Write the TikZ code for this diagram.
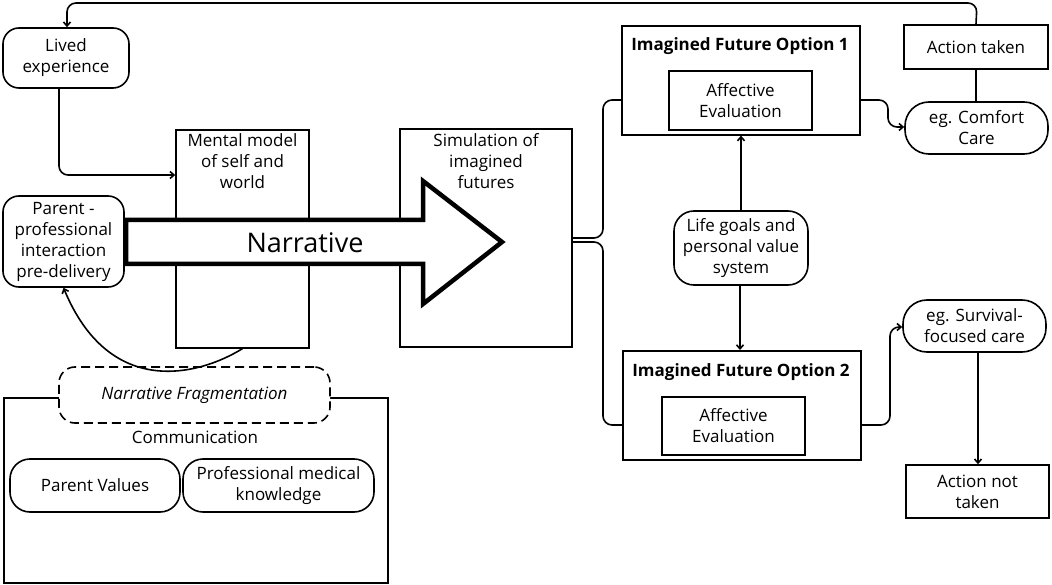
\documentclass[tikz,border=0pt]{standalone}
\usepackage{fontspec}
\setmainfont{Open Sans}
\usetikzlibrary{arrows.meta}
\begin{document}
\begin{tikzpicture}[x=1pt,y=-1pt,line width=1.6pt,
  >={Straight Barb[length=4pt,width=7pt]},
  box/.style={draw,inner sep=0pt,align=center,font=\fontsize{17}{21}\selectfont},
  rbox/.style={box,rounded corners=16pt},
  conn/.style={rounded corners=9pt}]
\useasboundingbox (0,0) rectangle (1052,585);
% left
\node[rbox,minimum width=126,minimum height=60] (lived) at (66,58) {Lived\\experience};
\node[box,minimum width=133,minimum height=218,anchor=north] (mental) at (242.5,129) {};
\node[box,draw=none,anchor=north] (mentalt) at (242.5,133) {Mental model\\of self and\\world};
\node[box,minimum width=172,minimum height=218,anchor=north] (sim) at (486,128) {};
\node[box,draw=none,anchor=north] (simt) at (486,133) {Simulation of\\imagined\\futures};
\node[rbox,minimum width=121,minimum height=91] (parent) at (63.5,241.5) {Parent -\\professional\\interaction\\pre-delivery};
% narrative arrow
\draw[line width=4.5pt,fill=white,line join=miter]
  (126,220) -- (423,220) -- (423,181) -- (502,242) -- (423,304) -- (423,264) -- (126,264) -- cycle;
\node[font=\fontsize{27}{30}\selectfont] (narr) at (305,243) {Narrative};
% communication
\node[box,minimum width=384,minimum height=185,anchor=north west] (comm) at (3,397) {};
\node[rbox,fill=white,dashed,dash pattern=on 9pt off 5pt,minimum width=271,minimum height=56,font=\fontsize{17}{21}\selectfont\itshape] (frag) at (194.5,395) {Narrative Fragmentation};
\node[font=\fontsize{17}{21}\selectfont] (commt) at (195,437) {Communication};
\node[rbox,minimum width=170,minimum height=53,rounded corners=20pt] (pv) at (95,485.5) {Parent Values};
\node[rbox,minimum width=191,minimum height=53,rounded corners=20pt] (pmk) at (278.5,485.5) {Professional medical\\knowledge};
% right
\node[box,minimum width=238,minimum height=109,anchor=north west] (o1) at (621,25) {};
\node[font=\fontsize{17}{21}\selectfont\bfseries] (o1t) at (740,46) {Imagined Future Option 1};
\node[box,minimum width=143,minimum height=59] (a1) at (740.5,100.5) {Affective\\Evaluation};
\node[box,minimum width=238,minimum height=109,anchor=north west] (o2) at (622,350) {};
\node[font=\fontsize{17}{21}\selectfont\bfseries] (o2t) at (741,372) {Imagined Future Option 2};
\node[box,minimum width=143,minimum height=58] (a2) at (733.5,426) {Affective\\Evaluation};
\node[rbox,minimum width=134,minimum height=74,rounded corners=20pt] (life) at (741,248) {Life goals and\\personal value\\system};
\node[box,minimum width=144,minimum height=44] (at) at (976,47) {Action taken};
\node[rbox,minimum width=143,minimum height=52,rounded corners=24pt] (cc) at (976.5,128) {eg. Comfort\\Care};
\node[rbox,minimum width=143,minimum height=52,rounded corners=24pt] (sc) at (974.5,326) {eg. Survival-\\focused care};
\node[box,minimum width=143,minimum height=53] (ant) at (977.5,491.5) {Action not\\taken};
% connectors
\draw[->,conn] (at.north) -- (977,3) -- (67,3) -- (lived.north-|67,0);
\draw[->,conn] (lived.south-|59,0) -- (59,175) -- (mental.west|-0,175);
\draw[->] (mental.south) .. controls (200,375) and (110,400) .. (parent.south);
\draw[conn] (sim.east|-0,238) -- (603,238) -- (603,100) -- (o1.west|-0,100);
\draw[conn] (sim.east|-0,242) -- (603,242) -- (603,425) -- (o2.west|-0,425);
\draw[->] (life.north) -- (o1.south-|life.north);
\draw[->] (life.south-|740,0) -- (o2.north-|740,0);
\draw (at.south) -- (cc.north-|at.south);
\draw[->,conn] (o1.east|-0,100) -- (888,100) -- (888,127) -- (cc.west|-0,127);
\draw[->,conn] (o2.east|-0,425) -- (890,425) -- (890,327) -- (sc.west|-0,327);
\draw[->] (sc.south-|978,0) -- (ant.north-|978,0);
\end{tikzpicture}
\end{document}
